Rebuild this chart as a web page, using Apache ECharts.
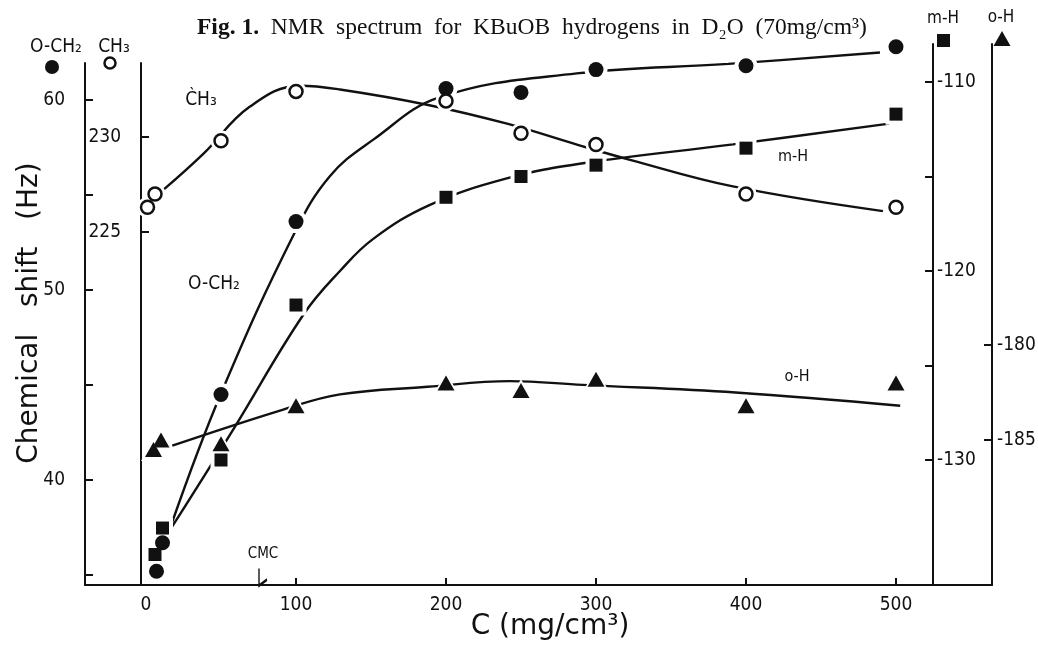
<!DOCTYPE html>
<html>
<head>
<meta charset="utf-8">
<script src="https://cdn.jsdelivr.net/npm/echarts@6/dist/echarts.min.js"></script>
<style>
html,body{margin:0;padding:0;background:#fff;}
#chart{width:1038px;height:649px;}
</style>
</head>
<body>
<div id="chart"></div>
<script>
// ---- data ----
// concentration C (mg/cm3) and chemical shift (Hz) of the plotted points
const cCH3  = [1, 6, 50, 100, 200, 250, 300, 400, 500];
const vCH3  = [226.3, 227.0, 229.8, 232.4, 231.9, 230.2, 229.6, 227.0, 226.3];
const cOCH2 = [7, 11, 50, 100, 200, 250, 300, 400, 500];
const vOCH2 = [35.2, 36.7, 44.5, 53.6, 60.6, 60.4, 61.6, 61.8, 62.8];
const cMH   = [6, 11, 50, 100, 200, 250, 300, 400, 500];
const vMH   = [-135.0, -133.6, -130.0, -121.8, -116.1, -115.0, -114.4, -113.5, -111.7];
const cOH   = [5, 10, 50, 100, 200, 250, 300, 400, 500];
const vOH   = [-185.5, -185.0, -185.2, -183.2, -182.0, -182.4, -181.8, -183.2, -182.0];

// hand-drawn trend curves [C, shift]
const curveCH3  = [[11.3,227.2],[38,229.1],[69.3,231.6],[102.7,232.7],[129.3,232.5],[187.3,231.7],[240.7,230.7],[287.3,229.6],[322.7,228.8],[391.3,227.4],[491.3,226.1]];
const curveOCH2 = [[17.1,37.7],[50,44.55],[99,53.0],[122.7,56.0],[151.3,57.9],[196,60.15],[287.1,61.4],[388.2,61.9],[489.3,62.5]];
const curveMH   = [[16,-133.7],[58,-128.4],[105,-122.3],[129.3,-120.0],[151.5,-118.3],[189.3,-116.5],[240.5,-115.1],[291.3,-114.3],[391.3,-113.3],[495.5,-112.2]];
const curveOH   = [[17.5,-185.3],[91.5,-183.4],[129.3,-182.6],[187.7,-182.2],[242.6,-181.9],[291.1,-182.1],[393.1,-182.5],[502.8,-183.2]];

const cmc = 78;  // CMC arrow position on the C axis

// tick values
const xTicks      = [100, 200, 300, 400, 500];
const xLabels     = [0, 100, 200, 300, 400, 500];
const och2Ticks   = [35, 40, 45, 50, 55, 60];
const och2Labels  = [40, 50, 60];
const ch3Ticks    = [225, 230];
const mhTicks     = [-130, -125, -120, -115, -110];
const mhLabels    = [-130, -120, -110];
const ohTicks     = [-185, -180];

// ---- styling ----
const INK = '#111';
const NARROW = "'Liberation Sans Narrow','DejaVu Sans Condensed','Roboto Condensed','Liberation Sans',sans-serif";
const SANS = "'DejaVu Sans','Liberation Sans',sans-serif";
const SERIF = "'Liberation Serif','DejaVu Serif',serif";
const X_MIN = -40.67, X_MAX = 564;

const pairs = (cs, vs) => cs.map((c, i) => [c, vs[i]]);

function yAx(grid, pos, offset, min, max, ticks, labels, margin) {
  return {
    type: 'value', gridIndex: grid, position: pos, offset: offset, min: min, max: max,
    splitLine: {show: false},
    axisLine: {show: true, onZero: false, lineStyle: {color: INK, width: 2}},
    axisTick: {show: true, inside: true, length: 8, lineStyle: {color: INK, width: 2}, customValues: ticks},
    axisLabel: {show: true, margin: margin, color: INK, fontSize: 19, fontFamily: NARROW, customValues: labels}
  };
}

function curve(data, xi, yi, extra) {
  return Object.assign({
    type: 'line', xAxisIndex: xi, yAxisIndex: yi, data: data, smooth: 0.4,
    symbol: 'none', clip: false, z: 2, silent: true,
    lineStyle: {color: INK, width: 2.4}
  }, extra || {});
}
function halo(data, xi, yi, symbol, size) {
  const s = Array.isArray(size) ? size.map(v => v + 8) : size + 8;
  return {type: 'scatter', xAxisIndex: xi, yAxisIndex: yi, data: data, symbol: symbol, symbolSize: s,
    itemStyle: {color: '#fff', opacity: 1}, z: 3, silent: true, clip: false};
}
function marks(name, data, xi, yi, symbol, size, itemStyle) {
  return {type: 'scatter', name: name, xAxisIndex: xi, yAxisIndex: yi, data: data, symbol: symbol, symbolSize: size,
    itemStyle: itemStyle, z: 4, clip: false};
}

const dCH3 = pairs(cCH3, vCH3), dOCH2 = pairs(cOCH2, vOCH2), dMH = pairs(cMH, vMH), dOH = pairs(cOH, vOH);
const openStyle = {color: '#fff', borderColor: INK, borderWidth: 2.5, opacity: 1};
const fillStyle = {color: INK, opacity: 1};

const chart = echarts.init(document.getElementById('chart'), null, {renderer: 'canvas'});
chart.setOption({
  animation: false,
  backgroundColor: '#fff',
  title: {
    left: 192, top: 11,
    text: '{b|Fig. 1.}  NMR  spectrum  for  KBuOB  hydrogens  in  D₂O  (70mg/cm³)',
    textStyle: {fontFamily: SERIF, fontSize: 23.5, fontWeight: 'normal', color: INK,
      rich: {b: {fontFamily: SERIF, fontSize: 23.5, fontWeight: 'bold', color: INK}}}
  },
  grid: [
    {left: 85, right: 46, top: 63, bottom: 64, containLabel: false, outerBoundsMode: 'none'},
    {left: 85, right: 46, top: 44, bottom: 64, containLabel: false, outerBoundsMode: 'none'}
  ],
  xAxis: [
    {
      type: 'value', gridIndex: 0, min: X_MIN, max: X_MAX,
      splitLine: {show: false},
      axisLine: {show: true, onZero: false, lineStyle: {color: INK, width: 2}},
      axisTick: {show: true, inside: true, length: 7, lineStyle: {color: INK, width: 2}, customValues: xTicks},
      axisLabel: {show: true, margin: 11, color: INK, fontSize: 19, fontFamily: NARROW, customValues: xLabels}
    },
    {type: 'value', gridIndex: 1, min: X_MIN, max: X_MAX, show: false, axisLine: {onZero: false}}
  ],
  yAxis: [
    yAx(0, 'left', 0, 34.474, 61.947, och2Ticks, och2Labels, 20),
    yAx(0, 'left', -56, 206.421, 233.895, ch3Ticks, ch3Ticks, 20),
    yAx(1, 'right', -59, -136.614, -107.989, mhTicks, mhLabels, 4),
    yAx(1, 'right', 0, -192.632, -164.158, ohTicks, ohTicks, 5)
  ],
  series: [
    curve(curveOCH2, 0, 0, {
      markPoint: {
        silent: true,
        data: [{coord: [cmc, 34.89]}],
        symbol: 'path://M0,0L0,20L7,13',
        symbolSize: [8, 17],
        symbolKeepAspect: false,
        itemStyle: {color: 'none', borderColor: INK, borderWidth: 2},
        label: {show: true, position: 'top', distance: 3, formatter: 'CMC', color: INK, fontSize: 15, fontFamily: NARROW}
      }
    }),
    curve(curveCH3, 0, 1),
    curve(curveMH, 1, 2),
    curve(curveOH, 1, 3),
    halo(dOCH2, 0, 0, 'circle', 15),
    halo(dCH3, 0, 1, 'circle', 13),
    halo(dMH, 1, 2, 'rect', 13),
    halo(dOH, 1, 3, 'triangle', [17, 15]),
    marks('O-CH2', dOCH2, 0, 0, 'circle', 15, fillStyle),
    marks('CH3', dCH3, 0, 1, 'circle', 13, openStyle),
    marks('m-H', dMH, 1, 2, 'rect', 13, fillStyle),
    marks('o-H', dOH, 1, 3, 'triangle', [17, 15], fillStyle)
  ],
  graphic: [
    // axis headers with their symbols
    {type: 'text', x: 56, y: 47, style: {text: 'O-CH₂', font: '19px ' + NARROW, fill: INK, textAlign: 'center', textVerticalAlign: 'middle'}},
    {type: 'text', x: 114, y: 47, style: {text: 'CH₃', font: '19px ' + NARROW, fill: INK, textAlign: 'center', textVerticalAlign: 'middle'}},
    {type: 'circle', shape: {cx: 52, cy: 67, r: 7}, style: {fill: INK}},
    {type: 'circle', shape: {cx: 110, cy: 63, r: 5.5}, style: {fill: '#fff', stroke: INK, lineWidth: 2.5}},
    {type: 'text', x: 943, y: 19, style: {text: 'm-H', font: '17px ' + NARROW, fill: INK, textAlign: 'center', textVerticalAlign: 'middle'}},
    {type: 'rect', shape: {x: 937, y: 34, width: 13, height: 13}, style: {fill: INK}},
    {type: 'text', x: 1001, y: 18, style: {text: 'o-H', font: '17px ' + NARROW, fill: INK, textAlign: 'center', textVerticalAlign: 'middle'}},
    {type: 'polygon', shape: {points: [[1002, 31], [1010.5, 46], [993.5, 46]]}, style: {fill: INK}},
    // curve labels
    {type: 'text', x: 201, y: 100, style: {text: 'C̀H₃', font: '19px ' + NARROW, fill: INK, textAlign: 'center', textVerticalAlign: 'middle'}},
    {type: 'text', x: 214, y: 284, style: {text: 'O-CH₂', font: '19px ' + NARROW, fill: INK, textAlign: 'center', textVerticalAlign: 'middle'}},
    {type: 'text', x: 793, y: 157, style: {text: 'm-H', font: '16px ' + NARROW, fill: INK, textAlign: 'center', textVerticalAlign: 'middle'}},
    {type: 'text', x: 797, y: 377, style: {text: 'o-H', font: '16px ' + NARROW, fill: INK, textAlign: 'center', textVerticalAlign: 'middle'}},
    // axis titles
    {type: 'text', x: 30, y: 313, rotation: Math.PI / 2,
      style: {text: 'Chemical   shift   (Hz)', font: '28px ' + SANS, fill: INK, textAlign: 'center', textVerticalAlign: 'middle'}},
    {type: 'text', x: 550, y: 627,
      style: {text: 'C (mg/cm³)', font: '28px ' + SANS, fill: INK, textAlign: 'center', textVerticalAlign: 'middle'}}
  ]
});
</script>
</body>
</html>
